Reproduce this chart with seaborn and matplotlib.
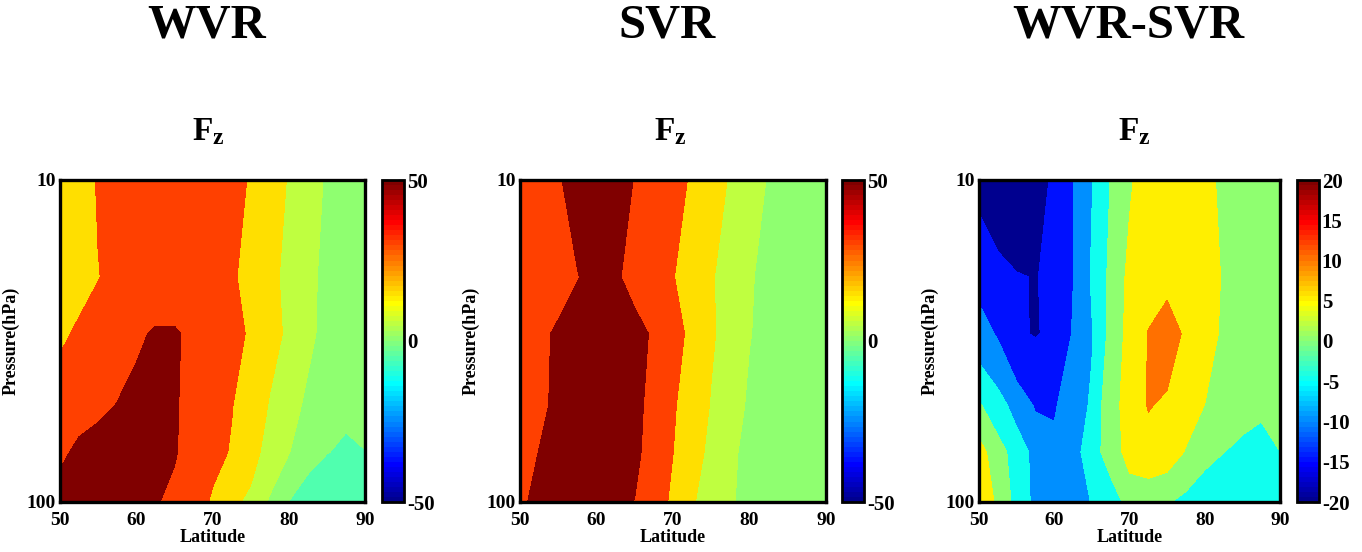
import numpy as np
import matplotlib
matplotlib.use('Agg')
import matplotlib.pyplot as plt
import seaborn as sns
from matplotlib.colors import ListedColormap, Normalize
from matplotlib.cm import ScalarMappable
from matplotlib.ticker import NullFormatter

# Grid: latitude (2.5 deg) x pressure levels (hPa)
latitude = [50, 52.5, 55, 57.5, 60, 62.5, 65, 67.5, 70, 72.5, 75, 77.5, 80, 82.5, 85, 87.5, 90]
pressure = [10, 20, 30, 50, 70, 100]

# Fz, one row per pressure level
wvr_fz = [
    [20, 24, 31, 36, 40, 42, 42, 41, 38, 34, 29, 22, 14, 9, 4, 2, 1],
    [22, 25, 29.5, 34, 37, 39, 39, 38, 36, 32, 25, 19, 11, 7, 3, 2, 1],
    [27, 32.5, 37, 42, 47, 52, 52, 46, 40, 35, 28, 19, 13, 6.5, 3, 2, 1.5],
    [40, 43, 46, 50.5, 55.6, 57, 53, 40, 34, 30.5, 24, 14, 8, 3.5, 1.5, 0.6, 1.5],
    [46, 54, 58, 60, 60, 58, 52, 40, 34, 29, 20, 10, 5.2, 2, 0.1, -0.5, -0.1],
    [59, 60, 61, 60, 58, 52, 44, 38, 28, 18, 12, 4, -0.1, -3, -3, -2.5, -2],
]
svr_fz = [
    [42, 45, 49, 54, 56, 55, 49.5, 42, 36, 28, 20, 14, 8, 4.5, 3, 2.5, 2],
    [40, 43, 46, 49.5, 54, 52, 45, 38, 30.5, 24, 16, 10, 5.5, 3.5, 2.5, 2, 2],
    [44, 47.6, 51.6, 56, 58, 58, 55, 48, 33, 28, 16.5, 10, 5.2, 3.5, 2.5, 2, 2],
    [44, 48, 52, 58, 60, 59, 55, 44, 31.3, 24, 14, 8, 4, 3, 2.5, 2, 2],
    [46, 50.2, 55, 58, 60, 58, 54, 42, 30.1, 20, 12, 6, 3.5, 2.5, 2, 2, 2],
    [48, 53, 57, 58, 58, 56, 49.5, 38, 27, 16, 10, 5.5, 3.5, 2.5, 2, 2, 2],
]
diff_fz = [
    [-16.3, -18, -18.5, -17, -14.2, -10.1, -5.2, 0.2, 4.5, 7, 8, 8, 7, 3.5, 2, 1.5, 1],
    [-11.5, -13.5, -14.74, -15.15, -14.2, -10.1, -4.5, 1.21, 6.2, 8, 8.3, 8, 7, 4.62, 2.5, 1.5, 1],
    [-8, -10.5, -14.6, -15.2, -14.4, -9.6, -5.3, 1.5, 6.65, 10.2, 13, 9, 7, 4.22, 2.5, 1.5, 1.2],
    [0.5, -2.9, -7.1, -10.5, -10.5, -7.4, -4.4, 4.06, 6, 10.4, 9, 7, 4.95, 3, 1.2, 0.7, 1.5],
    [7.05, 1.93, -2.09, -6.64, -8.9, -7.5, -1.55, 1.68, 7.2, 7.3, 7.5, 4.66, 1.41, 0.05, -0.8, -1.5, -0.03],
    [7, 4.5, -1.93, -6.19, -8, -7.5, -4.78, -2, 1.33, 2.5, 0.5, -1.5, -3, -4, -4.5, -4.5, -4],
]

panel_titles = ['WVR', 'SVR', 'WVR-SVR']
contour_levels = [
    [-50, -30, -15, -5, 0, 5, 15, 30, 50, 100],
    [-50, -30, -15, -5, 0, 5, 15, 30, 50, 100],
    [-20, -15, -10, -5, 0, 5, 10, 15, 20],
]
color_limits = [(-50, 50), (-50, 50), (-20, 20)]
cbar_ticks = [[-50, 0, 50], [-50, 0, 50], [-20, -15, -10, -5, 0, 5, 10, 15, 20]]

sns.set_style('ticks')
plt.rcParams['font.family'] = ['Liberation Serif', 'DejaVu Serif']
plt.rcParams['font.weight'] = 'bold'
plt.rcParams['mathtext.fontset'] = 'custom'
plt.rcParams['mathtext.rm'] = 'Liberation Serif:bold'
plt.rcParams['mathtext.it'] = 'Liberation Serif:bold'
plt.rcParams['mathtext.bf'] = 'Liberation Serif:bold'
plt.rcParams['axes.unicode_minus'] = False
for key in ['text.color', 'axes.labelcolor', 'xtick.color', 'ytick.color',
            'xtick.labelcolor', 'ytick.labelcolor']:
    plt.rcParams[key] = 'black'

# MATLAB-style 64 colour jet
x = np.arange(1, 65) / 64
jet64 = ListedColormap(np.clip(1.5 - np.abs(4 * x[:, None] - np.array([3, 2, 1])), 0, 1))

W, H = 1362, 552
fig = plt.figure(figsize=(W / 100, H / 100), dpi=100)

ax_px = [(60, 305), (520, 306), (979, 301)]
cb_px = [382, 842, 1297]
title_x = [207, 667, 1128]
fz_x = [208, 670, 1134]
top, h = 180, 322

lon, pres = np.meshgrid(latitude, pressure)
fields = [wvr_fz, svr_fz, diff_fz]

for i in range(3):
    left, w = ax_px[i]
    ax = fig.add_axes([left / W, (H - top - h) / H, w / W, h / H])
    norm = Normalize(*color_limits[i])
    levels = contour_levels[i]
    band_colors = jet64(norm(np.array(levels[:-1], dtype=float)))
    ax.contourf(lon, pres, np.array(fields[i]), levels=levels, colors=band_colors)

    ax.set_yscale('log')
    ax.set_ylim(100, 10)
    ax.set_xlim(50, 90)
    ax.set_yticks([10, 100])
    ax.set_yticklabels(['10', '100'])
    ax.yaxis.set_minor_formatter(NullFormatter())
    ax.set_xticks([50, 60, 70, 80, 90])
    ax.tick_params(which='both', direction='in', top=True, right=True,
                   labelsize=14, width=1.2, colors='black')
    ax.tick_params(which='major', length=4)
    ax.tick_params(which='minor', length=3)
    ax.tick_params(axis='x', pad=7)
    ax.tick_params(axis='y', pad=3)
    for s in ax.spines.values():
        s.set_linewidth(2.4)
        s.set_color('black')
    ax.set_xlabel('Latitude', fontsize=13, fontweight='bold', labelpad=0)
    ax.set_ylabel('Pressure(hPa)', fontsize=13, fontweight='bold', labelpad=5)

    cax = fig.add_axes([cb_px[i] / W, (H - top - h) / H, 22 / W, h / H])
    cb = fig.colorbar(ScalarMappable(norm=norm, cmap=jet64), cax=cax, ticks=cbar_ticks[i])
    cb.outline.set_linewidth(2)
    cb.outline.set_edgecolor('black')
    cax.tick_params(direction='in', left=True, right=True, length=4, width=1,
                    labelsize=15, pad=2, colors='black')
    cax.minorticks_off()

    fig.text(title_x[i] / W, 1 - 26 / H, panel_titles[i], ha='center', va='center',
             fontsize=35, fontweight='bold', color='black')
    fig.text(fz_x[i] / W, 1 - 132 / H, r'$\mathrm{F_z}$', ha='center', va='center',
             fontsize=24, color='black')

fig.savefig('out.png', dpi=100)
